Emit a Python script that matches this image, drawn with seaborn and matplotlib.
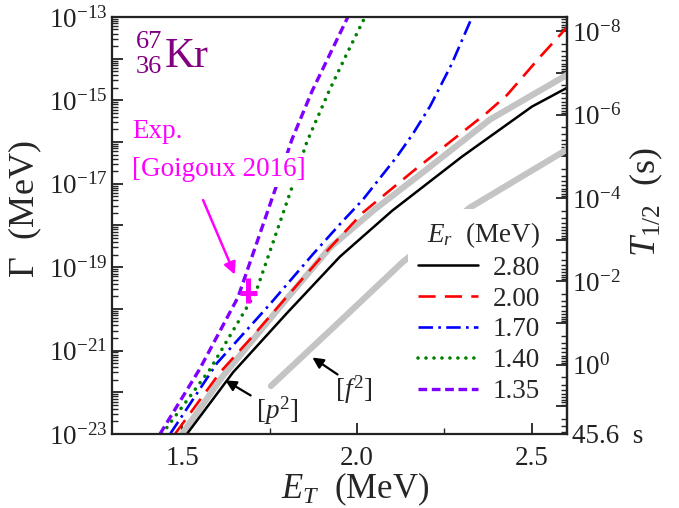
import numpy as np
import pandas as pd
import matplotlib
matplotlib.use('Agg')
import matplotlib.pyplot as plt
import seaborn as sns
from matplotlib.ticker import FixedLocator, FuncFormatter, LogLocator, NullFormatter

sns.set_style('ticks')
plt.rcParams['font.family'] = ['Liberation Serif', 'DejaVu Serif']
plt.rcParams['mathtext.fontset'] = 'custom'
plt.rcParams['mathtext.rm'] = 'Liberation Serif'
plt.rcParams['mathtext.it'] = 'Liberation Serif:italic'
plt.rcParams['mathtext.bf'] = 'Liberation Serif:bold'
plt.rcParams['xtick.direction'] = 'in'
plt.rcParams['ytick.direction'] = 'in'

# --- data: E_T (MeV) and log10(Gamma / MeV) ---
e_280 = [1.514, 1.646, 1.80, 1.951, 2.10, 2.30, 2.50, 2.60]
g_280 = [-23.0, -21.52, -20.1, -18.75, -17.65, -16.35, -15.15, -14.70]

e_200 = [1.48, 1.609, 1.694, 1.90, 2.017, 2.16, 2.371, 2.429, 2.523, 2.60]
g_200 = [-23.0, -21.52, -20.73, -18.74, -17.69, -16.70, -15.30, -14.87, -13.96, -13.25]

e_170 = [1.466, 1.60, 1.75, 1.874, 1.95, 2.017, 2.114, 2.16, 2.209, 2.27, 2.329]
g_170 = [-23.0, -21.3, -19.9, -18.69, -17.98, -17.38, -16.35, -15.8, -15.14, -14.14, -13.0]

e_140 = [1.443, 1.58, 1.711, 1.814, 1.857, 1.92, 1.97, 2.023]
g_140 = [-23.0, -21.45, -19.60, -17.09, -15.99, -14.78, -13.9, -13.0]

e_135 = [1.437, 1.55, 1.66, 1.771, 1.814, 1.871, 1.974]
g_135 = [-23.0, -21.45, -19.72, -17.02, -15.94, -14.79, -13.0]

# limits [p^2] and [f^2] (thick gray)
e_p2 = [1.50, 1.617, 1.80, 1.923, 2.05, 2.20, 2.38, 2.60]
g_p2 = [-23.0, -21.61, -19.75, -18.53, -17.62, -16.65, -15.46, -14.39]
e_f2 = [1.754, 1.951, 2.129, 2.323, 2.60]
g_f2 = [-21.85, -20.30, -18.89, -17.57, -16.18]

# experiment (Goigoux 2016)
exp_e = [1.689]
exp_g = [-19.62]
exp_g_hi = [-19.26]
exp_g_lo = [-19.86]
exp_de = [0.024]

er_labels = ['2.80', '2.00', '1.70', '1.40', '1.35']

HBAR_LN2 = 6.582e-22 * np.log(2)  # MeV s

fig = plt.figure(figsize=(6.79, 5.08), dpi=100)
ax = fig.add_axes([0.165, 0.1457, 0.670, 0.821])

def curve(e, g):
    return pd.DataFrame({'E': e, 'G': 10.0 ** np.array(g)})

# gray limit curves
sns.lineplot(data=curve(e_p2, g_p2), x='E', y='G', ax=ax, color='#c4c4c4', lw=4.5, zorder=1)
sns.lineplot(data=curve(e_f2, g_f2), x='E', y='G', ax=ax, color='#c4c4c4', lw=4.5, zorder=1)

styles = [
    dict(color='black', lw=1.8, linestyle='-'),
    dict(color='#ff0000', lw=1.9, dashes=(6.5, 3.5)),
    dict(color='#0000ff', lw=1.9, dashes=(5.5, 2, 1, 2)),
    dict(color='#008000', lw=2.6, dashes=(0.01, 2.2), dash_capstyle='round'),
    dict(color='#8000ff', lw=2.4, dashes=(2.6, 1.4)),
]
series = [(e_280, g_280), (e_200, g_200), (e_170, g_170), (e_140, g_140), (e_135, g_135)]
for (e, g), lab, st in zip(series, er_labels, styles):
    sns.lineplot(data=curve(e, g), x='E', y='G', ax=ax, label=lab, zorder=2, **st)

# experimental point
g0 = 10.0 ** np.array(exp_g)
ax.errorbar(exp_e, g0, xerr=exp_de,
            yerr=[g0 - 10.0 ** np.array(exp_g_lo), 10.0 ** np.array(exp_g_hi) - g0],
            fmt='none', ecolor='#ff00ff', elinewidth=3.6, capsize=0, zorder=4)

ax.set_yscale('log')
ax.set_xlim(1.3, 2.6)
ax.set_ylim(1e-23, 1e-13)

# ticks
ax.xaxis.set_major_locator(FixedLocator([1.5, 2.0, 2.5]))
ax.xaxis.set_minor_locator(FixedLocator([1.75, 2.25]))
ax.xaxis.set_major_formatter(FuncFormatter(lambda v, p: f'{v:.1f}'))
ax.yaxis.set_major_locator(FixedLocator(10.0 ** np.arange(-23, -12)))
ax.yaxis.set_minor_locator(LogLocator(base=10, subs=np.arange(2, 10), numticks=20))
ax.yaxis.set_minor_formatter(NullFormatter())

def left_fmt(v, p):
    k = int(round(np.log10(v)))
    return r'$10^{%d}$' % k if k % 2 else ''
ax.yaxis.set_major_formatter(FuncFormatter(left_fmt))
ax.tick_params(axis='both', which='major', direction='in', length=8, width=1.3,
               labelsize=19.5, colors='#222222', pad=3.5)
ax.tick_params(axis='both', which='minor', direction='in', length=4, width=1.0)
ax.tick_params(axis='y', which='both', right=False)
ax.tick_params(axis='x', which='major', pad=9)
for s in ax.spines.values():
    s.set_linewidth(1.6)
    s.set_color('#222222')

# right axis: half-life
sec = ax.secondary_yaxis('right', functions=(lambda g: HBAR_LN2 / g, lambda t: HBAR_LN2 / t))
t_major = [1e-8, 1e-7, 1e-6, 1e-5, 1e-4, 1e-3, 1e-2, 1e-1, 1e0, 1e1, 45.6]

def right_fmt(v, p):
    if abs(v - 45.6) < 1:
        return '45.6  s'
    k = int(round(np.log10(v)))
    return r'$10^{%d}$' % k if k % 2 == 0 and k <= 0 else ''
sec.yaxis.set_major_locator(FixedLocator(t_major))
sec.yaxis.set_major_formatter(FuncFormatter(right_fmt))
sec.yaxis.set_minor_locator(LogLocator(base=10, subs=np.arange(2, 10), numticks=20))
sec.yaxis.set_minor_formatter(NullFormatter())
sec.tick_params(which='major', direction='in', length=8, width=1.3, labelsize=19.5,
                colors='#222222', pad=3.5)
sec.tick_params(which='minor', direction='in', length=4, width=1.0)
sec.spines['right'].set_linewidth(1.6)

# axis labels
ax.set_xlabel(r'$E_T$  (MeV)', fontsize=25)
ax.xaxis.set_label_coords(0.535, -0.088)
ax.set_ylabel(r'$\Gamma$  (MeV)', fontsize=26)
ax.yaxis.set_label_coords(-0.15, 0.54)
fig.text(646 / 679, 1 - 202 / 508, r'$T_{1/2}$  (s)', fontsize=26, rotation=90,
         ha='center', va='center')

# legend
leg = ax.legend(loc='lower right', bbox_to_anchor=(0.965, 0.045), fontsize=19.5,
                title=r'$E_r$  (MeV)', title_fontsize=19.5, frameon=True,
                handlelength=2.2, handletextpad=0.55, labelspacing=0.22,
                borderpad=0.4, borderaxespad=0, alignment='right')
leg.get_frame().set_edgecolor('none')
leg.get_frame().set_facecolor('white')
leg.get_frame().set_alpha(1)
leg.set_zorder(5)

# annotations
purple = '#800080'
ax.text(0.052, 0.94, '67', transform=ax.transAxes, fontsize=19, color=purple, ha='left', va='center')
ax.text(0.052, 0.88, '36', transform=ax.transAxes, fontsize=19, color=purple, ha='left', va='center')
ax.text(0.115, 0.905, 'Kr', transform=ax.transAxes, fontsize=30, color=purple, ha='left', va='center')

mag = '#ff00ff'
ax.text(0.045, 0.726, 'Exp.', transform=ax.transAxes, fontsize=19.5, color=mag, ha='left', va='center')
ax.text(0.043, 0.633, '[Goigoux 2016]', transform=ax.transAxes, fontsize=19.5, color=mag,
        ha='left', va='center', zorder=6,
        bbox=dict(facecolor='white', edgecolor='none', pad=3))
ax.annotate('', xy=(1.654, 10 ** -19.24), xytext=(1.557, 10 ** -17.33),
            arrowprops=dict(arrowstyle='-|>', color=mag, lw=1.8, mutation_scale=18), zorder=6)

ax.annotate('', xy=(1.617, 10 ** -21.68), xytext=(1.703, 10 ** -22.11),
            arrowprops=dict(arrowstyle='-|>', color='black', lw=1.6, mutation_scale=16), zorder=6)
ax.text(1.712, 10 ** -22.45, r'[$p^2$]', fontsize=19.5, ha='left', va='center', zorder=6)
ax.annotate('', xy=(1.866, 10 ** -21.13), xytext=(1.951, 10 ** -21.61),
            arrowprops=dict(arrowstyle='-|>', color='black', lw=1.6, mutation_scale=16), zorder=6)
ax.text(1.938, 10 ** -21.95, r'[$f^2$]', fontsize=19.5, ha='left', va='center', zorder=6)

fig.savefig('out.png', dpi=100)
